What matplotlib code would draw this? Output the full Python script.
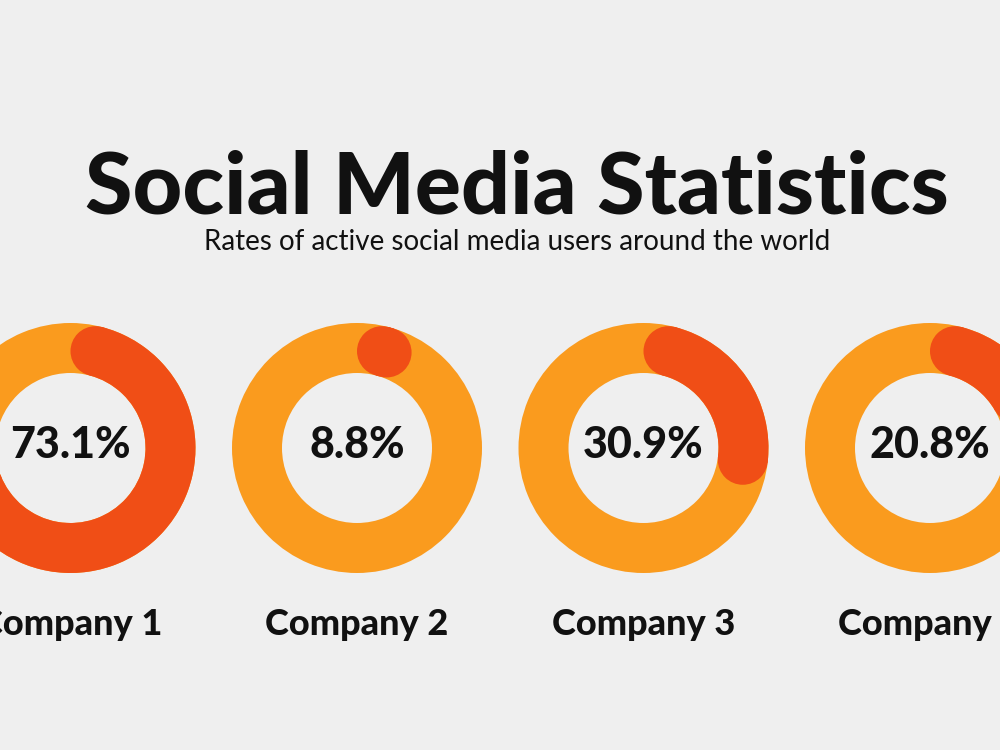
import matplotlib.pyplot as plt
from matplotlib.patches import Wedge, Circle
import numpy as np

# data
companies = ["Company 1", "Company 2", "Company 3", "Company 4"]
shares = [73.1, 8.8, 30.9, 20.8]

title = "Social Media Statistics"
subtitle = "Rates of active social media users around the world"

BG = "#efefef"
ORANGE = "#fa9b1e"
RED = "#f04e16"

W, H = 1000, 750
fig = plt.figure(figsize=(W / 100, H / 100), dpi=100, facecolor=BG)
ax = fig.add_axes([0, 0, 1, 1])
ax.set_xlim(0, W)
ax.set_ylim(0, H)
ax.set_aspect("equal")
ax.axis("off")
ax.set_facecolor(BG)

def py(y):
    # pixel row -> plot y
    return H - y

r_out, ring = 125, 50
r_mid = r_out - ring / 2
cy = py(448)
centers = [70.5 + i * 286.5 for i in range(len(shares))]

for cx, name, val in zip(centers, companies, shares):
    ax.add_patch(Wedge((cx, cy), r_out, 0, 360, width=ring, color=ORANGE, lw=0))

    # arc runs clockwise from 12 o'clock, rounded caps included in the span
    cap = np.degrees(np.arcsin((ring / 2) / r_mid))
    start = cap
    end = max(val / 100 * 360 - cap, start)
    ax.add_patch(Wedge((cx, cy), r_out, 90 - end, 90 - start, width=ring, color=RED, lw=0))
    for a in (start, end):
        t = np.radians(90 - a)
        ax.add_patch(Circle((cx + r_mid * np.cos(t), cy + r_mid * np.sin(t)), ring / 2, color=RED, lw=0))

    ax.text(cx, py(458), f"{val:.1f}%", ha="center", va="baseline",
            fontsize=31, fontweight="black", family="Lato", color="#111111")
    ax.text(cx, py(635), name, ha="center", va="baseline",
            fontsize=26, fontweight="black", family="Lato", color="#111111")

ax.text(W / 2 + 17, py(213), title, ha="center", va="baseline",
        fontsize=62, fontweight="black", family="Lato", color="#111111")
ax.text(W / 2 + 17, py(250), subtitle, ha="center", va="baseline",
        fontsize=20, family="Lato", color="#111111")

fig.savefig("out.png", dpi=100, facecolor=BG)
